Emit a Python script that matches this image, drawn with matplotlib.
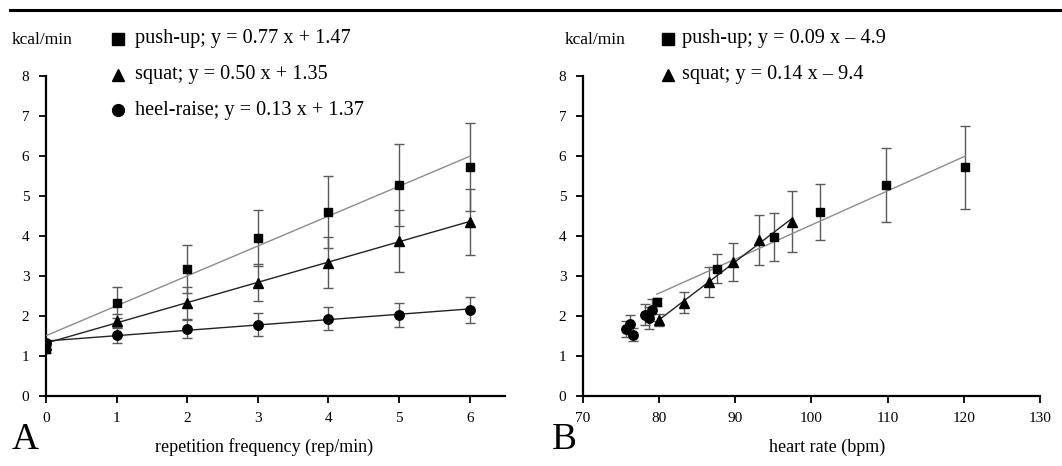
import numpy as np
import matplotlib
matplotlib.use("Agg")
import matplotlib.pyplot as plt
from matplotlib.lines import Line2D

plt.rcParams["font.family"] = ["Liberation Serif", "DejaVu Serif"]

# Panel A: energy expenditure vs repetition frequency
freq = [0, 1, 2, 3, 4, 5, 6]
pushup_a = [1.17, 2.33, 3.18, 3.95, 4.60, 5.27, 5.72]
pushup_a_sd = [0.10, 0.39, 0.60, 0.70, 0.90, 1.03, 1.10]
squat_a = [1.28, 1.87, 2.33, 2.83, 3.33, 3.87, 4.35]
squat_a_sd = [0.10, 0.17, 0.40, 0.47, 0.63, 0.77, 0.83]
heel_a = [1.32, 1.52, 1.67, 1.78, 1.93, 2.02, 2.15]
heel_a_sd = [0.08, 0.20, 0.22, 0.28, 0.28, 0.30, 0.32]

# Panel B: energy expenditure vs heart rate
pushup_hr = [79.7, 87.6, 95.1, 101.1, 109.8, 120.2]
pushup_b = [2.35, 3.18, 3.96, 4.60, 5.27, 5.72]
pushup_b_sd = [0.10, 0.37, 0.60, 0.70, 0.92, 1.04]
squat_hr = [80.0, 83.3, 86.5, 89.7, 93.1, 97.4]
squat_b = [1.90, 2.33, 2.85, 3.35, 3.89, 4.35]
squat_b_sd = [0.15, 0.27, 0.38, 0.48, 0.62, 0.76]
heel_hr = [76.6, 75.7, 76.2, 78.6, 78.1, 79.1]
heel_b = [1.53, 1.68, 1.79, 1.95, 2.03, 2.14]
heel_b_sd = [0.16, 0.20, 0.24, 0.27, 0.27, 0.28]

legend_a = ["push-up; y = 0.77 x + 1.47", "squat; y = 0.50 x + 1.35",
            "heel-raise; y = 0.13 x + 1.37"]
legend_b = ["push-up; y = 0.09 x \u2013 4.9", "squat; y = 0.14 x \u2013 9.4"]

W, H = 1062, 466
fig = plt.figure(figsize=(W / 100, H / 100), dpi=100)

ERR = "#5a5a5a"
MS = {"s": 6.0, "^": 6.5, "o": 6.8}


def fx(px):
    return px / W


def fy(py):
    return 1 - py / H


def series(ax, x, y, sd, marker):
    ax.errorbar(x, y, yerr=sd, fmt="none", ecolor=ERR, elinewidth=1.0,
                capsize=3.5, capthick=1.0, zorder=2)
    ax.plot(x, y, linestyle="none", marker=marker, color="black",
            markersize=MS[marker], zorder=4)


def fit_line(ax, x, y, color):
    k, b = np.polyfit(x, y, 1)
    xs = np.array([min(x), max(x)])
    ax.plot(xs, k * xs + b, color=color, linewidth=1.0, zorder=3)


def style_axes(ax):
    for s in ["top", "right"]:
        ax.spines[s].set_visible(False)
    for s in ["left", "bottom"]:
        ax.spines[s].set_linewidth(1.6)
    ax.tick_params(axis="both", direction="out", length=5, width=1.3,
                   labelsize=11, pad=7)
    ax.set_ylim(0, 8)
    ax.set_yticks(range(0, 9))


# ---- Panel A ----
axA = fig.add_axes([fx(46), fy(395.7), fx(505 - 46), (395.7 - 76) / H])
style_axes(axA)
fit_line(axA, freq, pushup_a, "#8c8c8c")
fit_line(axA, freq, squat_a, "#222222")
fit_line(axA, freq, heel_a, "#222222")
series(axA, freq, pushup_a, pushup_a_sd, "s")
series(axA, freq, squat_a, squat_a_sd, "^")
series(axA, freq, heel_a, heel_a_sd, "o")
axA.set_xlim(0, 6.5)
axA.set_xticks(freq)

# ---- Panel B ----
axB = fig.add_axes([fx(583), fy(395.7), fx(1040 - 583), (395.7 - 76) / H])
style_axes(axB)
fit_line(axB, pushup_hr, pushup_b, "#8c8c8c")
fit_line(axB, squat_hr, squat_b, "#222222")
series(axB, pushup_hr, pushup_b, pushup_b_sd, "s")
series(axB, squat_hr, squat_b, squat_b_sd, "^")
series(axB, heel_hr, heel_b, heel_b_sd, "o")
axB.set_xlim(70, 130)
axB.set_xticks(range(70, 131, 10))

# ---- text and legends ----
for x0 in (12, 565):
    fig.text(fx(x0), fy(40), "kcal/min", fontsize=12.5, va="center", ha="left")

legend_rows = [(118, 135, legend_a, ["s", "^", "o"]),
               (668, 682, legend_b, ["s", "^"])]
for mx, tx, labels, markers in legend_rows:
    for i, (lab, m) in enumerate(zip(labels, markers)):
        yy = 39 + i * 35.5
        fig.add_artist(Line2D([fx(mx)], [fy(yy)], marker=m, color="black",
                              markersize=8.5 if m != "^" else 9,
                              linestyle="none", transform=fig.transFigure))
        fig.text(fx(tx), fy(yy), lab, fontsize=14.6, va="center", ha="left")

fig.text(fx(12), fy(440), "A", fontsize=27, va="center", ha="left")
fig.text(fx(552), fy(440), "B", fontsize=27, va="center", ha="left")
fig.text(fx(264), fy(447), "repetition frequency (rep/min)", fontsize=13,
         va="center", ha="center")
fig.text(fx(827), fy(447), "heart rate (bpm)", fontsize=13,
         va="center", ha="center")

# top rule
fig.add_artist(Line2D([fx(10), 1.0], [fy(10), fy(10)], color="black",
                      linewidth=2.2, transform=fig.transFigure))

fig.savefig("out.png", dpi=100)
